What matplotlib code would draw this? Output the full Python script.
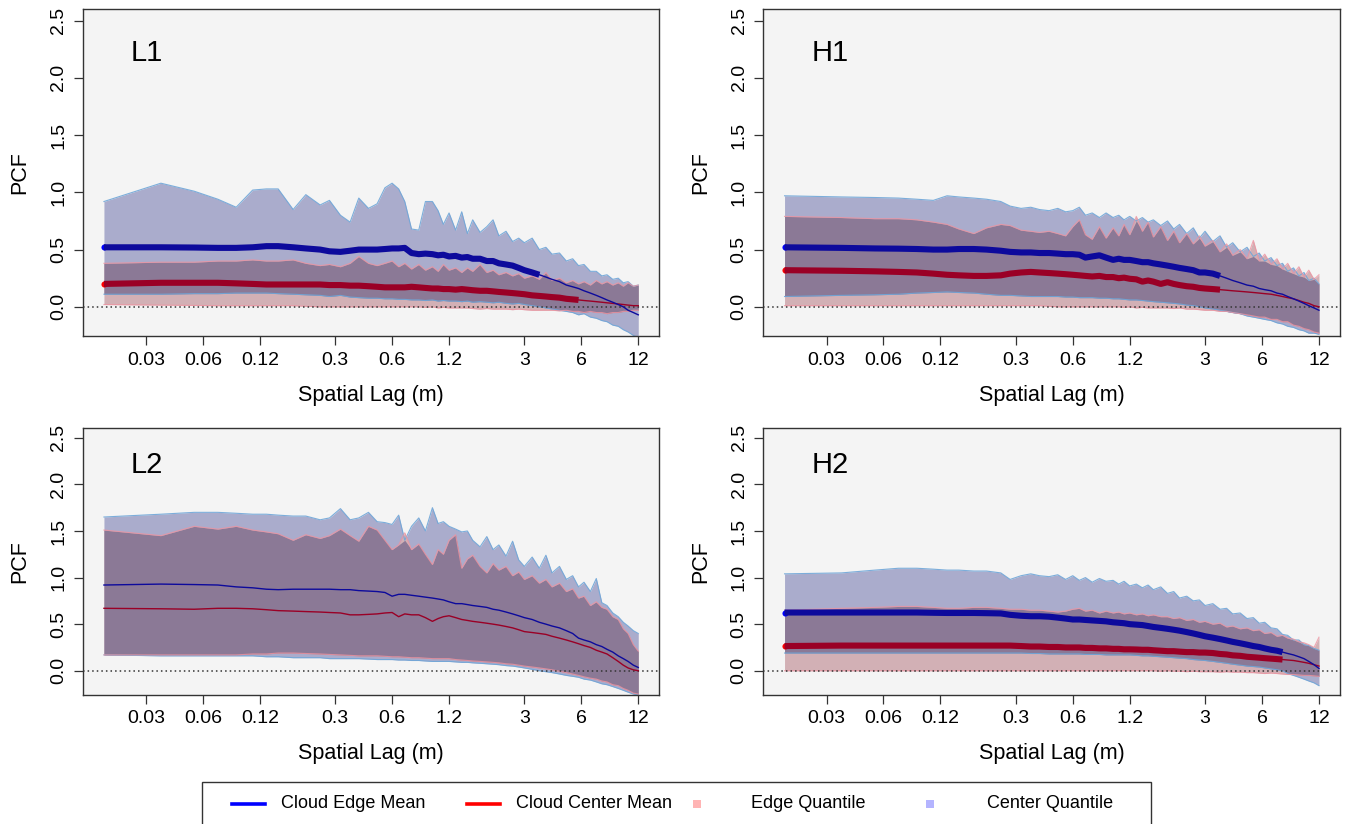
import numpy as np
import matplotlib
matplotlib.use("Agg")
import matplotlib.pyplot as plt
from matplotlib.lines import Line2D
from matplotlib.patches import Rectangle
from matplotlib.ticker import FixedLocator, NullLocator

plt.rcParams['font.family'] = ['Liberation Sans', 'DejaVu Sans']

# ---------------- data ----------------
lag = [0.018, 0.036, 0.054, 0.072, 0.09, 0.11, 0.13, 0.15, 0.18, 0.21,
       0.25, 0.28, 0.32, 0.36, 0.40, 0.45, 0.50, 0.55, 0.60, 0.65,
       0.70, 0.76, 0.83, 0.90, 0.98, 1.05, 1.12, 1.2, 1.3, 1.4,
       1.5, 1.6, 1.75, 1.9, 2.05, 2.2, 2.4, 2.6, 2.8, 3.0,
       3.3, 3.6, 3.9, 4.2, 4.6, 5.0, 5.4, 5.8, 6.2, 6.7,
       7.2, 7.7, 8.2, 8.8, 9.4, 10.0, 10.6, 11.3, 12.0]

x_ticks = [0.03, 0.06, 0.12, 0.3, 0.6, 1.2, 3, 6, 12]
x_tick_labels = ['0.03', '0.06', '0.12', '0.3', '0.6', '1.2', '3', '6', '12']
y_ticks = [0.0, 0.5, 1.0, 1.5, 2.0, 2.5]
y_tick_labels = ['0.0', '0.5', '1.0', '1.5', '2.0', '2.5']

panel_names = ['L1', 'H1', 'L2', 'H2']
legend_labels = ['Cloud Edge Mean', 'Cloud Center Mean', 'Edge Quantile', 'Center Quantile']

# ---- L1 ----
L1_center_hi = [0.92, 1.08, 1.01, 0.94, 0.87, 1.02, 1.03, 1.03, 0.85, 0.98,
                0.89, 0.93, 0.80, 0.74, 0.95, 0.86, 0.90, 1.04, 1.08, 1.03,
                0.92, 0.68, 0.67, 0.92, 0.92, 0.84, 0.72, 0.82, 0.67, 0.83,
                0.64, 0.76, 0.65, 0.70, 0.76, 0.62, 0.66, 0.57, 0.60, 0.56,
                0.60, 0.50, 0.52, 0.46, 0.47, 0.40, 0.42, 0.36, 0.37, 0.31,
                0.31, 0.27, 0.28, 0.24, 0.25, 0.21, 0.22, 0.18, 0.19]
L1_center_lo = [0.11, 0.11, 0.115, 0.115, 0.12, 0.12, 0.12, 0.115, 0.11, 0.105,
                0.10, 0.09, 0.10, 0.085, 0.08, 0.075, 0.075, 0.07, 0.07, 0.065,
                0.065, 0.06, 0.06, 0.055, 0.06, 0.05, 0.055, 0.05, 0.05, 0.045,
                0.05, 0.04, 0.045, 0.04, 0.035, 0.04, 0.03, 0.025, 0.03, 0.02,
                0.01, 0.0, -0.01, -0.02, -0.03, -0.04, -0.05, -0.07, -0.06, -0.09,
                -0.10, -0.12, -0.13, -0.16, -0.17, -0.20, -0.22, -0.25, -0.27]
L1_edge_hi = [0.38, 0.39, 0.39, 0.40, 0.40, 0.41, 0.40, 0.40, 0.41, 0.38,
              0.36, 0.37, 0.35, 0.38, 0.44, 0.38, 0.36, 0.38, 0.40, 0.35,
              0.38, 0.33, 0.37, 0.32, 0.35, 0.31, 0.37, 0.32, 0.34, 0.30,
              0.34, 0.31, 0.37, 0.30, 0.32, 0.28, 0.30, 0.27, 0.29, 0.25,
              0.27, 0.24, 0.30, 0.23, 0.25, 0.21, 0.23, 0.20, 0.22, 0.19,
              0.23, 0.20, 0.22, 0.19, 0.21, 0.18, 0.21, 0.18, 0.19]
L1_edge_lo = [0.02, 0.015, 0.012, 0.01, 0.01, 0.01, 0.01, 0.01, 0.01, 0.005,
              0.0, 0.0, 0.0, 0.0, 0.0, 0.0, 0.0, 0.0, 0.0, 0.0,
              0.0, 0.0, 0.0, -0.005, 0.0, -0.01, -0.005, -0.01, -0.01, -0.01,
              -0.01, -0.015, -0.02, -0.015, -0.02, -0.02, -0.02, -0.025, -0.02, -0.025,
              -0.03, -0.03, -0.03, -0.03, -0.035, -0.03, -0.04, -0.04, -0.05, -0.04,
              -0.05, -0.05, -0.06, -0.05, -0.05, -0.04, -0.04, -0.03, -0.03]
L1_edge_mean = [0.52, 0.52, 0.518, 0.515, 0.515, 0.52, 0.53, 0.53, 0.52, 0.51,
                0.50, 0.485, 0.48, 0.49, 0.50, 0.50, 0.50, 0.505, 0.51, 0.51,
                0.515, 0.47, 0.46, 0.465, 0.46, 0.45, 0.455, 0.44, 0.445, 0.43,
                0.435, 0.42, 0.42, 0.40, 0.40, 0.38, 0.37, 0.36, 0.34, 0.32,
                0.30, 0.28, 0.26, 0.24, 0.22, 0.19, 0.175, 0.16, 0.14, 0.12,
                0.10, 0.08, 0.06, 0.04, 0.02, 0.0, -0.03, -0.05, -0.07]
L1_center_mean = [0.20, 0.21, 0.21, 0.21, 0.205, 0.20, 0.195, 0.195, 0.195, 0.195,
                  0.195, 0.19, 0.19, 0.185, 0.185, 0.18, 0.175, 0.17, 0.17, 0.17,
                  0.17, 0.175, 0.17, 0.165, 0.16, 0.16, 0.155, 0.155, 0.15, 0.155,
                  0.15, 0.145, 0.14, 0.14, 0.135, 0.13, 0.125, 0.12, 0.115, 0.11,
                  0.10, 0.095, 0.09, 0.085, 0.08, 0.07, 0.065, 0.06, 0.055, 0.05,
                  0.045, 0.04, 0.035, 0.03, 0.025, 0.02, 0.015, 0.01, 0.01]
L1_edge_sig_until = 3.6
L1_center_sig_until = 5.8

# ---- H1 ----
H1_center_hi = [0.97, 0.96, 0.955, 0.95, 0.94, 0.93, 0.97, 0.96, 0.95, 0.94,
                0.92, 0.88, 0.86, 0.87, 0.85, 0.84, 0.86, 0.83, 0.84, 0.87,
                0.80, 0.82, 0.78, 0.82, 0.78, 0.80, 0.76, 0.79, 0.75, 0.78,
                0.74, 0.76, 0.71, 0.75, 0.68, 0.72, 0.64, 0.69, 0.60, 0.66,
                0.57, 0.62, 0.52, 0.56, 0.48, 0.52, 0.44, 0.47, 0.40, 0.43,
                0.36, 0.38, 0.31, 0.34, 0.27, 0.30, 0.23, 0.25, 0.20]
H1_center_lo = [0.09, 0.10, 0.105, 0.11, 0.12, 0.125, 0.13, 0.125, 0.12, 0.11,
                0.10, 0.10, 0.095, 0.09, 0.09, 0.09, 0.09, 0.085, 0.085, 0.08,
                0.08, 0.08, 0.075, 0.075, 0.07, 0.07, 0.065, 0.06, 0.06, 0.055,
                0.05, 0.045, 0.04, 0.035, 0.03, 0.025, 0.015, 0.01, 0.0, -0.01,
                -0.02, -0.03, -0.04, -0.05, -0.06, -0.08, -0.09, -0.10, -0.11, -0.12,
                -0.14, -0.15, -0.17, -0.18, -0.20, -0.21, -0.23, -0.23, -0.24]
H1_edge_hi = [0.79, 0.78, 0.77, 0.77, 0.76, 0.74, 0.72, 0.68, 0.64, 0.69,
              0.72, 0.71, 0.67, 0.66, 0.65, 0.66, 0.64, 0.62, 0.70, 0.76,
              0.63, 0.59, 0.70, 0.60, 0.69, 0.62, 0.72, 0.63, 0.79, 0.66,
              0.74, 0.61, 0.70, 0.58, 0.66, 0.56, 0.64, 0.55, 0.62, 0.53,
              0.58, 0.48, 0.55, 0.45, 0.50, 0.42, 0.58, 0.40, 0.46, 0.37,
              0.42, 0.33, 0.38, 0.29, 0.35, 0.26, 0.32, 0.24, 0.28]
H1_edge_lo = [0.01, 0.01, 0.01, 0.01, 0.01, 0.01, 0.01, 0.01, 0.01, 0.01,
              0.01, 0.01, 0.01, 0.01, 0.01, 0.005, 0.0, 0.0, 0.0, 0.0,
              0.0, 0.0, 0.0, 0.0, 0.0, 0.0, -0.005, 0.0, -0.01, -0.005,
              -0.01, -0.01, -0.01, -0.01, -0.015, -0.01, -0.02, -0.02, -0.025, -0.03,
              -0.03, -0.04, -0.04, -0.05, -0.06, -0.07, -0.08, -0.09, -0.09, -0.11,
              -0.11, -0.13, -0.13, -0.16, -0.17, -0.19, -0.20, -0.22, -0.23]
H1_edge_mean = [0.52, 0.515, 0.51, 0.508, 0.505, 0.50, 0.50, 0.505, 0.505, 0.50,
                0.49, 0.48, 0.475, 0.475, 0.47, 0.47, 0.465, 0.46, 0.46, 0.455,
                0.43, 0.44, 0.45, 0.43, 0.41, 0.42, 0.41, 0.41, 0.40, 0.39,
                0.39, 0.38, 0.37, 0.36, 0.35, 0.34, 0.33, 0.32, 0.30, 0.30,
                0.29, 0.27, 0.25, 0.23, 0.21, 0.19, 0.18, 0.16, 0.15, 0.14,
                0.12, 0.11, 0.09, 0.07, 0.05, 0.03, 0.01, -0.01, -0.03]
H1_center_mean = [0.32, 0.315, 0.31, 0.305, 0.30, 0.29, 0.28, 0.275, 0.27, 0.27,
                  0.275, 0.29, 0.30, 0.305, 0.30, 0.295, 0.29, 0.285, 0.28, 0.275,
                  0.27, 0.265, 0.27, 0.26, 0.26, 0.25, 0.255, 0.245, 0.24, 0.22,
                  0.23, 0.22, 0.20, 0.215, 0.20, 0.19, 0.18, 0.175, 0.165, 0.16,
                  0.155, 0.15, 0.145, 0.14, 0.135, 0.13, 0.125, 0.12, 0.115, 0.11,
                  0.10, 0.09, 0.08, 0.07, 0.055, 0.04, 0.03, 0.01, 0.0]
H1_edge_sig_until = 3.6
H1_center_sig_until = 3.6

# ---- L2 ----
L2_center_hi = [1.65, 1.68, 1.70, 1.70, 1.69, 1.68, 1.68, 1.67, 1.66, 1.66,
                1.62, 1.64, 1.74, 1.62, 1.64, 1.70, 1.60, 1.59, 1.57, 1.67,
                1.40, 1.55, 1.64, 1.50, 1.75, 1.58, 1.60, 1.55, 1.52, 1.49,
                1.50, 1.40, 1.33, 1.44, 1.30, 1.35, 1.23, 1.39, 1.19, 1.12,
                1.22, 1.10, 1.24, 1.05, 1.12, 0.98, 1.02, 0.90, 0.95, 0.85,
                0.99, 0.73, 0.70, 0.62, 0.58, 0.52, 0.48, 0.43, 0.40]
L2_center_lo = [0.17, 0.16, 0.16, 0.16, 0.16, 0.16, 0.15, 0.15, 0.14, 0.14,
                0.14, 0.13, 0.13, 0.13, 0.13, 0.125, 0.12, 0.12, 0.12, 0.115,
                0.115, 0.11, 0.11, 0.105, 0.10, 0.10, 0.10, 0.10, 0.095, 0.09,
                0.09, 0.085, 0.08, 0.075, 0.07, 0.065, 0.055, 0.05, 0.04, 0.03,
                0.015, 0.0, -0.01, -0.02, -0.035, -0.05, -0.06, -0.07, -0.09, -0.10,
                -0.12, -0.14, -0.15, -0.17, -0.19, -0.21, -0.23, -0.25, -0.26]
L2_edge_hi = [1.51, 1.45, 1.55, 1.52, 1.55, 1.51, 1.49, 1.47, 1.40, 1.46,
              1.42, 1.45, 1.52, 1.45, 1.39, 1.55, 1.51, 1.40, 1.30, 1.35,
              1.48, 1.30, 1.36, 1.25, 1.14, 1.30, 1.25, 1.40, 1.46, 1.10,
              1.20, 1.24, 1.12, 1.05, 1.15, 1.08, 1.12, 1.02, 1.06, 0.98,
              1.02, 0.94, 0.98, 0.90, 0.94, 0.85, 0.88, 0.78, 0.80, 0.70,
              0.74, 0.68, 0.66, 0.58, 0.55, 0.45, 0.40, 0.28, 0.21]
L2_edge_lo = [0.17, 0.17, 0.17, 0.17, 0.17, 0.18, 0.18, 0.19, 0.19, 0.185,
              0.18, 0.175, 0.17, 0.165, 0.16, 0.16, 0.16, 0.155, 0.15, 0.15,
              0.145, 0.14, 0.14, 0.135, 0.13, 0.13, 0.13, 0.13, 0.12, 0.115,
              0.11, 0.105, 0.10, 0.095, 0.09, 0.085, 0.075, 0.07, 0.06, 0.05,
              0.04, 0.03, 0.02, 0.01, -0.005, -0.02, -0.035, -0.05, -0.065, -0.08,
              -0.09, -0.11, -0.12, -0.15, -0.16, -0.19, -0.21, -0.24, -0.25]
L2_edge_mean = [0.92, 0.93, 0.925, 0.92, 0.90, 0.89, 0.875, 0.87, 0.875, 0.875,
                0.875, 0.875, 0.87, 0.87, 0.86, 0.855, 0.85, 0.84, 0.80, 0.82,
                0.82, 0.81, 0.80, 0.79, 0.78, 0.77, 0.76, 0.74, 0.72, 0.72,
                0.71, 0.70, 0.69, 0.68, 0.66, 0.65, 0.63, 0.61, 0.59, 0.57,
                0.55, 0.52, 0.50, 0.48, 0.46, 0.43, 0.40, 0.35, 0.33, 0.31,
                0.28, 0.26, 0.23, 0.20, 0.16, 0.13, 0.10, 0.06, 0.035]
L2_center_mean = [0.67, 0.665, 0.66, 0.67, 0.67, 0.665, 0.655, 0.645, 0.64, 0.635,
                  0.63, 0.625, 0.62, 0.60, 0.60, 0.605, 0.61, 0.62, 0.625, 0.58,
                  0.61, 0.60, 0.60, 0.57, 0.53, 0.56, 0.58, 0.59, 0.57, 0.55,
                  0.54, 0.53, 0.52, 0.51, 0.50, 0.49, 0.475, 0.46, 0.44, 0.42,
                  0.41, 0.40, 0.39, 0.37, 0.35, 0.33, 0.31, 0.29, 0.27, 0.25,
                  0.22, 0.20, 0.18, 0.14, 0.10, 0.06, 0.03, 0.01, 0.0]
L2_edge_sig_until = 0.0
L2_center_sig_until = 0.0

# ---- H2 ----
H2_center_hi = [1.04, 1.05, 1.08, 1.10, 1.10, 1.09, 1.08, 1.08, 1.07, 1.07,
                1.05, 0.98, 1.02, 1.04, 1.02, 1.01, 1.03, 0.98, 1.02, 0.97,
                1.00, 0.95, 0.99, 0.96, 0.97, 0.93, 0.96, 0.91, 0.93, 0.89,
                0.92, 0.87, 0.90, 0.83, 0.85, 0.78, 0.80, 0.75, 0.76, 0.70,
                0.72, 0.66, 0.67, 0.61, 0.62, 0.56, 0.57, 0.51, 0.52, 0.46,
                0.45, 0.39, 0.38, 0.33, 0.33, 0.28, 0.27, 0.24, 0.22]
H2_center_lo = [0.19, 0.19, 0.19, 0.19, 0.19, 0.19, 0.19, 0.19, 0.19, 0.19,
                0.19, 0.19, 0.19, 0.185, 0.185, 0.18, 0.18, 0.18, 0.18, 0.18,
                0.175, 0.175, 0.175, 0.17, 0.17, 0.17, 0.17, 0.17, 0.165, 0.16,
                0.16, 0.155, 0.15, 0.145, 0.14, 0.135, 0.13, 0.12, 0.115, 0.11,
                0.10, 0.09, 0.08, 0.07, 0.06, 0.05, 0.045, 0.04, 0.03, 0.02,
                0.01, 0.0, -0.03, -0.05, -0.07, -0.09, -0.11, -0.13, -0.16]
H2_edge_hi = [0.65, 0.67, 0.68, 0.69, 0.69, 0.68, 0.67, 0.67, 0.68, 0.68,
              0.67, 0.66, 0.66, 0.65, 0.65, 0.64, 0.63, 0.64, 0.66, 0.67,
              0.64, 0.65, 0.62, 0.64, 0.62, 0.63, 0.61, 0.62, 0.60, 0.61,
              0.59, 0.60, 0.58, 0.58, 0.56, 0.57, 0.54, 0.55, 0.52, 0.53,
              0.50, 0.51, 0.47, 0.48, 0.45, 0.46, 0.43, 0.44, 0.40, 0.41,
              0.37, 0.38, 0.35, 0.34, 0.31, 0.30, 0.28, 0.25, 0.36]
H2_edge_lo = [0.0, 0.0, 0.0, 0.0, 0.0, 0.0, 0.0, 0.0, 0.0, 0.0,
              0.0, 0.0, 0.0, 0.0, 0.0, 0.0, 0.0, 0.0, 0.0, 0.0,
              0.0, 0.0, 0.0, 0.0, 0.0, 0.0, 0.0, 0.0, 0.0, 0.0,
              0.0, 0.0, -0.005, 0.0, -0.005, -0.005, -0.01, -0.005, -0.01, -0.01,
              -0.01, -0.015, -0.01, -0.015, -0.015, -0.02, -0.02, -0.025, -0.03, -0.025,
              -0.03, -0.035, -0.04, -0.04, -0.045, -0.05, -0.05, -0.055, -0.06]
H2_edge_mean = [0.625, 0.625, 0.625, 0.625, 0.625, 0.622, 0.62, 0.62, 0.62, 0.618,
                0.615, 0.60, 0.59, 0.585, 0.585, 0.58, 0.57, 0.56, 0.55, 0.55,
                0.545, 0.54, 0.535, 0.53, 0.52, 0.515, 0.51, 0.50, 0.495, 0.49,
                0.48, 0.47, 0.46, 0.45, 0.44, 0.43, 0.415, 0.40, 0.385, 0.37,
                0.355, 0.34, 0.325, 0.31, 0.295, 0.28, 0.265, 0.255, 0.24, 0.225,
                0.215, 0.20, 0.185, 0.17, 0.15, 0.13, 0.10, 0.065, 0.025]
H2_center_mean = [0.265, 0.27, 0.27, 0.27, 0.27, 0.27, 0.27, 0.27, 0.27, 0.27,
                  0.27, 0.27, 0.265, 0.26, 0.26, 0.255, 0.255, 0.25, 0.25, 0.25,
                  0.245, 0.245, 0.24, 0.24, 0.235, 0.235, 0.23, 0.23, 0.228, 0.225,
                  0.225, 0.22, 0.215, 0.21, 0.21, 0.205, 0.20, 0.20, 0.195, 0.195,
                  0.19, 0.18, 0.175, 0.165, 0.16, 0.15, 0.145, 0.14, 0.135, 0.13,
                  0.125, 0.12, 0.115, 0.11, 0.10, 0.09, 0.08, 0.065, 0.05]
H2_edge_sig_until = 7.7
H2_center_sig_until = 7.7

panels = {
    'L1': (L1_center_hi, L1_center_lo, L1_edge_hi, L1_edge_lo, L1_edge_mean, L1_center_mean,
           L1_edge_sig_until, L1_center_sig_until),
    'H1': (H1_center_hi, H1_center_lo, H1_edge_hi, H1_edge_lo, H1_edge_mean, H1_center_mean,
           H1_edge_sig_until, H1_center_sig_until),
    'L2': (L2_center_hi, L2_center_lo, L2_edge_hi, L2_edge_lo, L2_edge_mean, L2_center_mean,
           L2_edge_sig_until, L2_center_sig_until),
    'H2': (H2_center_hi, H2_center_lo, H2_edge_hi, H2_edge_lo, H2_edge_mean, H2_center_mean,
           H2_edge_sig_until, H2_center_sig_until),
}

# ---------------- styling ----------------
W, H = 1349, 824
BG = '#F4F4F4'
C_BLUE_FILL = '#AAACCC'
C_PINK_FILL = '#D2B0B5'
C_OVERLAP = '#8B7996'
C_BLUE_EDGE = '#6FA6D8'
C_PINK_EDGE = '#EE93A0'
C_BLUE_LINE = '#0D0A9C'
C_RED_LINE = '#9A0026'
AX_COL = '#333333'

fig = plt.figure(figsize=(W / 100, H / 100), dpi=100)
fig.patch.set_facecolor('white')


def add_axes_px(l, t, r, b):
    return fig.add_axes([l / W, 1 - b / H, (r - l) / W, (b - t) / H])


boxes = {
    'L1': (82.7, 9.0, 659.3, 336.0),
    'H1': (763.3, 9.0, 1340.0, 336.0),
    'L2': (82.7, 428.3, 659.3, 694.5),
    'H2': (763.3, 428.3, 1340.0, 694.5),
}

x = np.array(lag)


def draw_mean(ax, y, cut, dark, bright):
    y = np.asarray(y)
    thick = x <= cut
    thin = x >= cut
    if thick.sum() > 1:
        ax.plot(x[0], y[0], 'o', color=bright, ms=4.4, mew=0, zorder=6)
        ax.plot(x[thick], y[thick], color=dark, lw=4.4, solid_capstyle='butt',
                solid_joinstyle='round', zorder=7)
        ax.plot(x[thin], y[thin], color=dark, lw=1.0, zorder=7)
    else:
        ax.plot(x, y, color=dark, lw=1.0, zorder=7)


for name in panel_names:
    (c_hi, c_lo, e_hi, e_lo, e_mean, c_mean, e_cut, c_cut) = panels[name]
    c_hi, c_lo, e_hi, e_lo = map(np.asarray, (c_hi, c_lo, e_hi, e_lo))
    l, t, r, b = boxes[name]
    ax = add_axes_px(l, t, r, b)
    ax.set_facecolor(BG)
    ax.set_xscale('log')

    ax.fill_between(x, c_lo, c_hi, color=C_BLUE_FILL, lw=0, zorder=1)
    ax.fill_between(x, e_lo, e_hi, color=C_PINK_FILL, lw=0, zorder=1.1)
    ov_lo = np.maximum(c_lo, e_lo)
    ov_hi = np.minimum(c_hi, e_hi)
    ax.fill_between(x, ov_lo, ov_hi, where=ov_hi > ov_lo, interpolate=True,
                    color=C_OVERLAP, lw=0, zorder=1.2)
    for yy in (c_hi, c_lo):
        ax.plot(x, yy, color=C_BLUE_EDGE, lw=0.8, alpha=0.9, zorder=1.5)
    for yy in (e_hi, e_lo):
        ax.plot(x, yy, color=C_PINK_EDGE, lw=0.8, alpha=0.8, zorder=1.5)

    ax.axhline(0, color=AX_COL, lw=1.1, ls=(0, (1, 2)), zorder=5)

    draw_mean(ax, c_mean, c_cut, C_RED_LINE, '#FF0000')
    draw_mean(ax, e_mean, e_cut, C_BLUE_LINE, '#0000FF')

    ax.set_xlim(0.0139, 15.5)
    ax.set_ylim(-0.255, 2.602)
    ax.xaxis.set_major_locator(FixedLocator(x_ticks))
    ax.xaxis.set_minor_locator(NullLocator())
    ax.set_xticklabels(x_tick_labels)
    ax.set_yticks(y_ticks)
    ax.set_yticklabels(y_tick_labels, rotation=90, va='center')
    ax.tick_params(length=6.3, width=0.9, labelsize=14, pad=5.0, color=AX_COL)
    for s in ax.spines.values():
        s.set_linewidth(1.0)
        s.set_color(AX_COL)

    width = r - l
    height = b - t
    ax.set_xlabel('Spatial Lag (m)', fontsize=15.5)
    ax.xaxis.label.set_va('center')
    ax.xaxis.set_label_coords(0.5, -(59.5 / height))
    ax.set_ylabel('PCF', fontsize=15.5)
    ax.yaxis.label.set_va('center')
    ax.yaxis.set_label_coords(-(62.7 / width), 0.5)

    label_y = 1 - 52.0 / height if t < 100 else 1 - 44.4 / height
    ax.text(48.3 / width, label_y, name, transform=ax.transAxes,
            fontsize=21, va='baseline', ha='left')

# ---------------- legend (drawn manually) ----------------
def fx(px):
    return px / W


def fy(py):
    return 1 - py / H


fig.add_artist(Rectangle((fx(202), fy(840)), fx(1151) - fx(202), fy(782) - fy(840),
                         transform=fig.transFigure, fill=False, ec=AX_COL, lw=1.0,
                         clip_on=False))
ly = fy(804)
fig.add_artist(Line2D([fx(232), fx(265)], [ly, ly], transform=fig.transFigure,
                      color='#0000FF', lw=2.6))
fig.add_artist(Line2D([fx(467), fx(500)], [ly, ly], transform=fig.transFigure,
                      color='#FF0000', lw=2.6))
fig.add_artist(Line2D([fx(697)], [ly], transform=fig.transFigure, marker='s', ms=6,
                      mew=0, color='#FFB4B4', lw=0))
fig.add_artist(Line2D([fx(930)], [ly], transform=fig.transFigure, marker='s', ms=6,
                      mew=0, color='#B4B4FF', lw=0))
for px, lab in zip([281, 516, 751, 987], legend_labels):
    fig.text(fx(px), ly, lab, fontsize=13, va='center', ha='left')

fig.savefig('out.png', dpi=100, facecolor='white')
